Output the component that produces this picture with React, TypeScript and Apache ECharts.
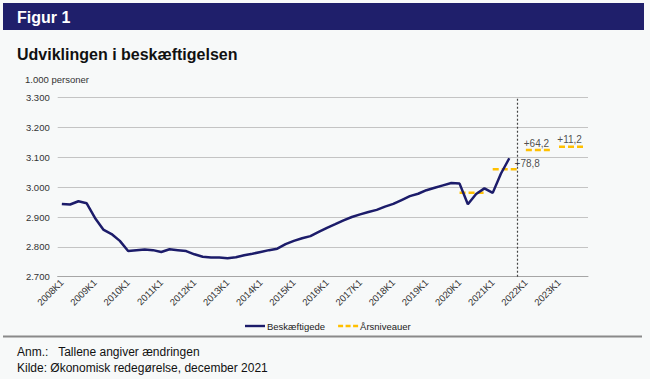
import React, { useEffect, useRef } from "react";
import * as echarts from "echarts";

const FONT = "'Liberation Sans', Arial, sans-serif";

const years = ["2008","2009","2010","2011","2012","2013","2014","2015","2016","2017","2018","2019","2020","2021","2022","2023"];
const quarters = ["K1", "K2", "K3", "K4"];
const categories: string[] = years.flatMap((y) => quarters.map((q) => y + q));

// Beskæftigede, 1.000 personer, 2008K1 - 2021K3
const employment = [
  2944, 2942, 2953, 2946, 2897, 2858, 2843, 2820,
  2786, 2789, 2791, 2789, 2783, 2792, 2789, 2786,
  2775, 2767, 2764, 2764, 2762, 2765, 2772, 2777,
  2783, 2789, 2794, 2809, 2820, 2829, 2836, 2850,
  2864, 2876, 2889, 2900, 2909, 2917, 2924, 2935,
  2944, 2957, 2970, 2978, 2990, 2998, 3006, 3014,
  3012, 2943, 2977, 2996, 2981, 3046, 3097,
];

// Årsniveauer
const annualYears = ["2020", "2021", "2022", "2023"];
const annualLevels = [2981.5, 3060.3, 3124.5, 3135.7];
const annualChanges = ["", "+78,8", "+64,2", "+11,2"];

const yTicks = { min: 2700, max: 3300, interval: 100 };
const forecastBoundary = 54.5; // between 2021K3 and 2021K4

const NAVY = "#1c1c6a";
const GOLD = "#FFC000";

export default function App() {
  const ref = useRef<HTMLDivElement>(null);
  useEffect(() => {
    document.body.style.margin = "0";
    const chart = echarts.init(ref.current!, null, { renderer: "svg" });

    const annualSeries = annualYears.map((yr, i) => ({
      name: "Årsniveauer",
      type: "line",
      data: categories.map((c) => (c.startsWith(yr) ? annualLevels[i] : null)),
      showSymbol: false,
      symbol: "none",
      lineStyle: { color: GOLD, width: 2.5, type: [6, 3] },
      itemStyle: { color: GOLD },
      z: 3,
      silent: true,
    }));

    const annotationData = annualYears
      .map((yr, i) => {
        if (!annualChanges[i]) return null;
        const k1 = categories.indexOf(yr + "K1");
        if (i === 1) {
          return {
            value: [k1 + 3, annualLevels[i]],
            label: { position: "right", distance: 0, offset: [-3, -6], formatter: annualChanges[i] },
          };
        }
        return {
          value: [k1 + 1.5, annualLevels[i]],
          label: { position: "top", distance: 2, offset: [-6, 0], formatter: annualChanges[i] },
        };
      })
      .filter(Boolean);

    chart.setOption({
      animation: false,
      backgroundColor: "#f7f9f9",
      textStyle: { fontFamily: FONT },
      graphic: [
        { type: "rect", shape: { x: 3, y: 3, width: 641, height: 27 }, style: { fill: "#1f1f6b" } },
        { type: "text", x: 17, y: 17, style: { text: "Figur 1", fill: "#ffffff", font: `bold 16px ${FONT}`, verticalAlign: "middle" } },
        { type: "text", x: 17, y: 54, style: { text: "Udviklingen i beskæftigelsen", fill: "#111111", font: `bold 16px ${FONT}`, verticalAlign: "middle" } },
        { type: "text", x: 25, y: 79, style: { text: "1.000 personer", fill: "#333333", font: `9.5px ${FONT}`, verticalAlign: "middle" } },
        { type: "line", shape: { x1: 3, y1: 336.5, x2: 642, y2: 336.5 }, style: { stroke: "#8a8a8a", lineWidth: 2 } },
        { type: "text", x: 17, y: 352, style: { text: "Anm.:\u00a0\u00a0 Tallene angiver ændringen", fill: "#111111", font: `12px ${FONT}`, verticalAlign: "middle" } },
        { type: "text", x: 17, y: 368, style: { text: "Kilde: Økonomisk redegørelse, december 2021", fill: "#111111", font: `12px ${FONT}`, verticalAlign: "middle" } },
      ],
      grid: { left: 57.7, right: 62, top: 97.7, bottom: 102.3, containLabel: false },
      legend: {
        left: 240,
        top: 316,
        itemWidth: 20,
        itemHeight: 10,
        itemGap: 13,
        data: [
          { name: "Beskæftigede", icon: "path://M0,0M20,10M0,3.8h20v2.4h-20z", itemStyle: { color: NAVY } },
          { name: "Årsniveauer", icon: "path://M0,0M20,10M0,3.8h5v2.4h-5zM7.5,3.8h5v2.4h-5zM15,3.8h5v2.4h-5z", itemStyle: { color: GOLD } },
        ],
        textStyle: { fontSize: 9.5, color: "#222", fontFamily: FONT, padding: [0, 0, 0, -3] },
      },
      xAxis: {
        type: "category",
        data: categories,
        boundaryGap: true,
        axisLine: { lineStyle: { color: "#a6a6a6", width: 1 } },
        axisTick: { interval: 0, length: 3, lineStyle: { color: "#a6a6a6" } },
        axisLabel: { interval: 3, rotate: 45, fontSize: 9.5, color: "#333", margin: 4, fontFamily: FONT },
        splitLine: { show: false },
      },
      yAxis: {
        type: "value",
        min: yTicks.min,
        max: yTicks.max,
        interval: yTicks.interval,
        axisLine: { show: false },
        axisTick: { show: false },
        axisLabel: {
          fontSize: 9.5,
          color: "#333",
          margin: 8,
          fontFamily: FONT,
          formatter: (v: number) => v.toLocaleString("da-DK").replace(/\s/g, "."),
        },
        splitLine: { lineStyle: { color: "#c4c4c4", width: 1.2 } },
      },
      series: [
        {
          name: "Beskæftigede",
          type: "line",
          data: employment,
          showSymbol: false,
          symbol: "none",
          lineStyle: { color: NAVY, width: 2.5 },
          itemStyle: { color: NAVY },
          z: 4,
          markLine: {
            silent: true,
            symbol: "none",
            label: { show: false },
            lineStyle: { color: "#444", type: [2, 2], width: 1.2 },
            data: [{ xAxis: forecastBoundary }],
          },
        },
        ...annualSeries,
        {
          name: "annotations",
          type: "scatter",
          symbolSize: 0,
          itemStyle: { color: "transparent" },
          data: annotationData,
          label: { show: true, fontSize: 10, color: "#222", fontFamily: FONT },
          silent: true,
          z: 5,
        },
      ],
    });
    return () => chart.dispose();
  }, []);
  return <div ref={ref} style={{ width: 650, height: 379 }} />;
}
